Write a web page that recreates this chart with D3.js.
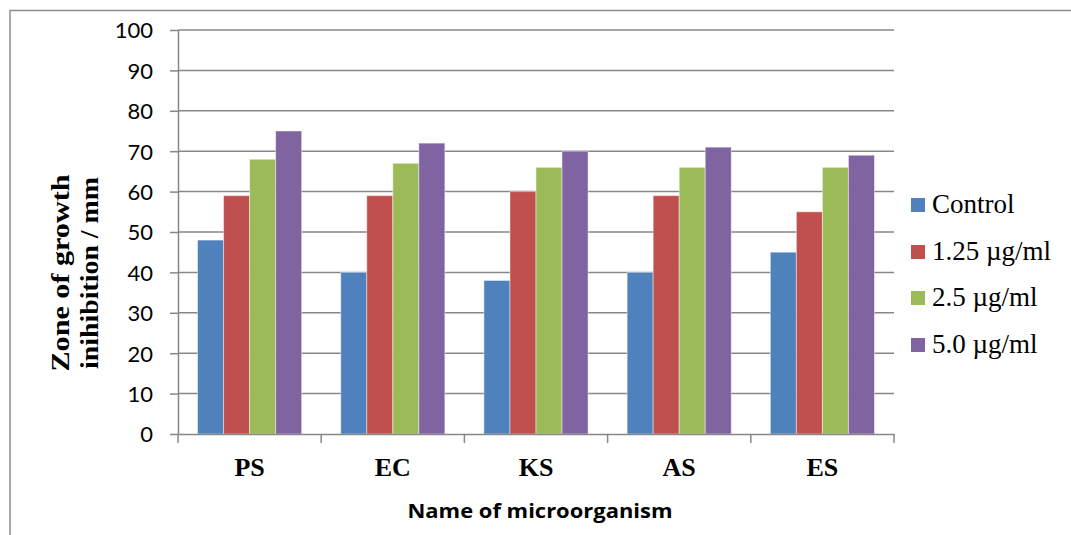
<!DOCTYPE html>
<html>
<head>
<meta charset="utf-8">
<script src="https://cdn.jsdelivr.net/npm/d3@7/dist/d3.min.js"></script>
<style>
  html, body { margin: 0; padding: 0; background: #fff; overflow: hidden; }
  svg { display: block; }
</style>
</head>
<body>
<svg id="chart" width="1071" height="535"></svg>
<script>
// Microorganisms tested
const categories = ["PS", "EC", "KS", "AS", "ES"];
// Concentration series (legend order)
const seriesNames = ["Control", "1.25 \u00b5g/ml", "2.5 \u00b5g/ml", "5.0 \u00b5g/ml"];
const seriesColors = ["#4F81BD", "#C0504D", "#9BBB59", "#8064A2"];
// Zone of growth inhibition (mm) per series, one value per microorganism
const control = [48, 40, 38, 40, 45];
const conc125 = [59, 59, 60, 59, 55];
const conc25  = [68, 67, 66, 66, 66];
const conc50  = [75, 72, 70, 71, 69];
const yTicks = [0, 10, 20, 30, 40, 50, 60, 70, 80, 90, 100];

const seriesValues = [control, conc125, conc25, conc50];

const svg = d3.select("#chart");

// Outer chart frame (left and top edges fall inside the canvas)
svg.append("path")
  .attr("d", "M10,540 L10,10.5 L1080,10.5")
  .attr("fill", "none").attr("stroke", "#8c8c8c").attr("stroke-width", 1.5);

const plot = { left: 178, right: 894, top: 30, bottom: 434 };

const x0 = d3.scaleBand().domain(categories)
  .range([plot.left, plot.right]).paddingInner(0).paddingOuter(0);
const y = d3.scaleLinear().domain([0, 100]).range([plot.bottom, plot.top]);

// Gap width of 150%: each category holds 4 bars plus 1.5 bar widths of gap
const barW = x0.bandwidth() / 5.5;
const groupOffset = barW * 0.75;

const gridColor = "#878787";

// Horizontal gridlines
svg.append("g")
  .selectAll("line")
  .data(yTicks.filter(d => d > 0))
  .join("line")
  .attr("x1", plot.left).attr("x2", plot.right)
  .attr("y1", d => y(d)).attr("y2", d => y(d))
  .attr("stroke", gridColor).attr("stroke-width", 1.5);

// Y axis
const yAxis = svg.append("g")
  .attr("transform", `translate(${plot.left},0)`)
  .call(d3.axisLeft(y).tickValues(yTicks).tickSize(8).tickSizeOuter(0).tickPadding(17));
yAxis.select(".domain").attr("stroke", gridColor).attr("stroke-width", 1.5);
yAxis.selectAll(".tick line").attr("stroke", gridColor).attr("stroke-width", 1.5);
yAxis.selectAll(".tick text")
  .attr("font-family", "Lato, 'Liberation Sans', sans-serif")
  .attr("font-size", 22)
  .attr("fill", "#000")
  .attr("dy", "0.36em");

// Bars
const groups = svg.append("g")
  .selectAll("g")
  .data(categories)
  .join("g")
  .attr("transform", d => `translate(${x0(d)},0)`);

groups.selectAll("rect")
  .data((c, ci) => seriesValues.map((vals, si) => ({ si, v: vals[ci] })))
  .join("rect")
  .attr("x", d => groupOffset + d.si * barW)
  .attr("width", barW)
  .attr("y", d => y(d.v))
  .attr("height", d => y(0) - y(d.v))
  .attr("fill", d => seriesColors[d.si])
  .attr("stroke", "rgba(255,255,255,0.45)")
  .attr("stroke-width", 1);

// X axis line
const xAxis = svg.append("g")
  .attr("transform", `translate(0,${plot.bottom})`)
  .call(d3.axisBottom(x0).tickSize(0).tickSizeOuter(0).tickFormat(""));
xAxis.select(".domain").attr("stroke", gridColor).attr("stroke-width", 1.5);
xAxis.selectAll(".tick").remove();

// Category boundary tick marks
svg.append("g")
  .selectAll("line")
  .data(d3.range(categories.length + 1))
  .join("line")
  .attr("x1", i => plot.left + i * x0.bandwidth())
  .attr("x2", i => plot.left + i * x0.bandwidth())
  .attr("y1", plot.bottom).attr("y2", plot.bottom + 9)
  .attr("stroke", gridColor).attr("stroke-width", 1.5);

// Category labels
svg.append("g")
  .selectAll("text")
  .data(categories)
  .join("text")
  .attr("x", d => x0(d) + x0.bandwidth() / 2)
  .attr("y", 476)
  .attr("text-anchor", "middle")
  .attr("font-family", "'Liberation Serif', serif")
  .attr("font-weight", "bold")
  .attr("font-size", 26)
  .attr("fill", "#000")
  .text(d => d);

// X axis title
svg.append("text")
  .attr("x", 540).attr("y", 518)
  .attr("text-anchor", "middle")
  .attr("font-family", "'Open Sans', Lato, sans-serif")
  .attr("font-weight", "bold")
  .attr("font-size", 20)
  .attr("textLength", 265)
  .attr("lengthAdjust", "spacingAndGlyphs")
  .attr("fill", "#000")
  .text("Name of microorganism");

// Y axis title (two lines)
const yTitle = ["Zone of growth", "inihibition / mm"];
const yTitleX = [69, 98];
const yTitleLen = [197, 192];
svg.append("g")
  .selectAll("text")
  .data(yTitle)
  .join("text")
  .attr("transform", (d, i) => `translate(${yTitleX[i]},273) rotate(-90)`)
  .attr("text-anchor", "middle")
  .attr("font-family", "'Liberation Serif', serif")
  .attr("font-weight", "bold")
  .attr("font-size", 25)
  .attr("textLength", (d, i) => yTitleLen[i])
  .attr("lengthAdjust", "spacingAndGlyphs")
  .attr("fill", "#000")
  .text(d => d);

// Legend
const legendRows = [205, 252, 298, 345];
const legend = svg.append("g")
  .selectAll("g")
  .data(seriesNames)
  .join("g")
  .attr("transform", (d, i) => `translate(911,${legendRows[i]})`);
legend.append("rect")
  .attr("x", 0).attr("y", -7)
  .attr("width", 14).attr("height", 14)
  .attr("fill", (d, i) => seriesColors[i]);
legend.append("text")
  .attr("x", 21).attr("y", 8)
  .attr("font-family", "'Liberation Serif', serif")
  .attr("font-size", 27)
  .attr("fill", "#000")
  .text(d => d);
</script>
</body>
</html>
